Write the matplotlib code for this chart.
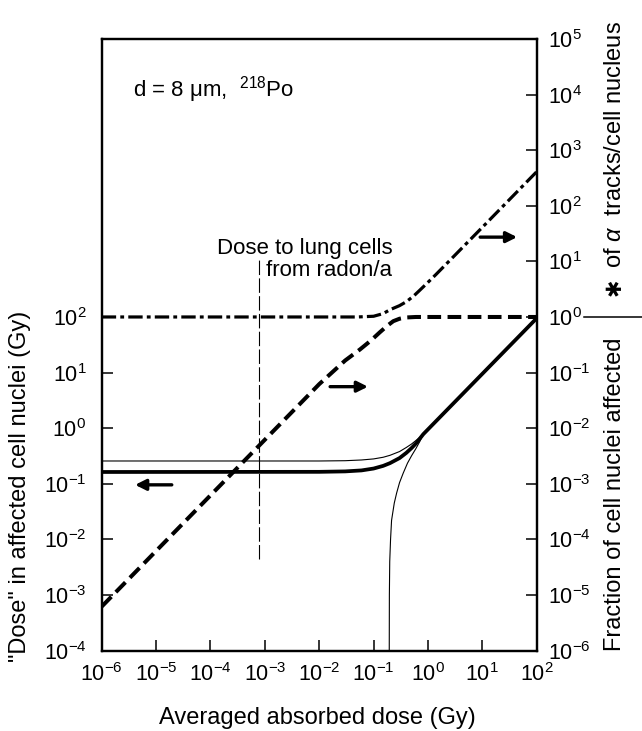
import matplotlib
matplotlib.use("Agg")
import matplotlib.pyplot as plt
from matplotlib.ticker import NullLocator, LogFormatterSciNotation

plt.rcParams['font.family'] = ['Liberation Sans', 'DejaVu Sans']
plt.rcParams['mathtext.fontset'] = 'custom'
plt.rcParams['mathtext.rm'] = 'Liberation Sans'
plt.rcParams['mathtext.it'] = 'Liberation Sans:italic'
plt.rcParams['mathtext.bf'] = 'Liberation Sans:bold'

# ---------------- data ----------------
# "Dose" in affected cell nuclei (left axis), thick solid curve
thick_x = [1e-6, 1e-2, 0.03, 0.06, 0.1, 0.15, 0.2, 0.3, 0.4, 0.5, 0.6, 0.7, 0.82, 100]
thick_y = [0.163, 0.164, 0.167, 0.174, 0.188, 0.21, 0.235, 0.29, 0.36, 0.44, 0.53, 0.64, 0.78, 95]

# thin upper curve (left axis)
thin_x = [1e-6, 1e-2, 0.03, 0.06, 0.1, 0.15, 0.2, 0.3, 0.4, 0.5, 0.6, 0.7, 0.82]
thin_y = [0.257, 0.257, 0.26, 0.268, 0.28, 0.30, 0.325, 0.38, 0.45, 0.52, 0.6, 0.68, 0.78]

# thin lower curve rising from the bottom (left axis)
low_x = [0.1935, 0.194, 0.195, 0.198, 0.205, 0.214, 0.24, 0.265, 0.3, 0.35, 0.42, 0.5, 0.6, 0.71, 0.82]
low_y = [1e-5, 1e-4, 1e-3, 4e-3, 1e-2, 0.022, 0.045, 0.068, 0.105, 0.155, 0.235, 0.32, 0.43, 0.58, 0.78]

# fraction of cell nuclei affected (right axis), dashed
frac_x = [1e-6, 1e-2, 0.03, 0.056, 0.09, 0.13, 0.18, 0.23, 0.3, 0.4, 0.6, 1, 100]
frac_y = [6.2e-6, 0.062, 0.165, 0.26, 0.38, 0.53, 0.7, 0.84, 0.93, 0.98, 1.0, 1.0, 1.0]

# number of alpha tracks per cell nucleus (right axis), dash-dot
trk_x = [1e-6, 0.05, 0.1, 0.15, 0.2, 0.3, 0.4, 0.55, 0.7, 1.0, 1.4, 2.35, 10, 100]
trk_y = [1.0, 1.0, 1.03, 1.15, 1.35, 1.6, 1.88, 2.4, 3.0, 4.2, 5.8, 9.7, 41, 410]

# marker for dose to lung cells from radon per year (left-axis units)
lung_x = [7.9e-4, 7.9e-4]
lung_y = [4.4e-3, 1.1e3]

x_ticks = [1e-6, 1e-5, 1e-4, 1e-3, 1e-2, 1e-1, 1e0, 1e1, 1e2]
left_ticks = [1e-4, 1e-3, 1e-2, 1e-1, 1e0, 1e1, 1e2]
right_ticks = [1e-6, 1e-5, 1e-4, 1e-3, 1e-2, 1e-1, 1e0, 1e1, 1e2, 1e3, 1e4, 1e5]

# ---------------- figure ----------------
fig = plt.figure(figsize=(6.42, 7.31), dpi=100)
ax = fig.add_axes([0.1585, 0.11, 0.6775, 0.8367])
ax2 = ax.twinx()

ax.set_xscale('log')
ax.set_yscale('log')
ax2.set_yscale('log')
ax.set_xlim(1e-6, 1e2)
ax.set_ylim(1e-4, 1e7)
ax2.set_ylim(1e-6, 1e5)

ax.plot(thin_x, thin_y, color='black', lw=0.8, zorder=3)
ax.plot(low_x, low_y, color='black', lw=0.8, zorder=3)
ax.plot(thick_x, thick_y, color='black', lw=2.7, zorder=4, solid_capstyle='butt')
ax.plot(lung_x, lung_y, color='black', lw=0.8, linestyle=(0, (13, 3)), zorder=2)

ax2.plot(frac_x, frac_y, color='black', lw=2.9, linestyle=(0, (3.4, 1.6)),
         dash_capstyle='butt', zorder=4)
ax2.plot(trk_x, trk_y, color='black', lw=2.3, linestyle=(0, (4.5, 1.3, 1.2, 1.3)),
         dash_capstyle='butt', zorder=4)

# ticks
ax.set_xticks(x_ticks)
ax.set_yticks(left_ticks)
ax2.set_yticks(right_ticks)
for a in (ax, ax2):
    a.xaxis.set_minor_locator(NullLocator())
    a.yaxis.set_minor_locator(NullLocator())
    for s in a.spines.values():
        s.set_linewidth(1.6)
ax.xaxis.set_major_formatter(LogFormatterSciNotation())
ax.yaxis.set_major_formatter(LogFormatterSciNotation())
ax2.yaxis.set_major_formatter(LogFormatterSciNotation())

ax.tick_params(axis='x', direction='in', length=8, width=1.1, pad=9, labelsize=15.5, top=False)
ax.tick_params(axis='y', direction='in', length=8, width=1.1, pad=11, labelsize=15.5)
ax2.tick_params(axis='y', direction='in', length=8, width=1.1, pad=8, labelsize=15.5)

# annotations inside the plot
ax.text(0.072, 0.9166, 'd = 8 \u03bcm,  $^{218}$Po', transform=ax.transAxes,
        fontsize=16, ha='left', va='center')
ax.text(0.265, 0.658, 'Dose to lung cells', transform=ax.transAxes,
        fontsize=16, ha='left', va='center')
ax.text(0.378, 0.622, 'from radon/a', transform=ax.transAxes,
        fontsize=16, ha='left', va='center')

arrow_kw = dict(arrowstyle='-|>', lw=2.4, color='black', mutation_scale=16,
                shrinkA=0, shrinkB=0)
ax.annotate('', xy=(0.955, 0.676), xytext=(0.870, 0.676), xycoords='axes fraction',
            arrowprops=arrow_kw)
ax.annotate('', xy=(0.612, 0.4315), xytext=(0.525, 0.4315), xycoords='axes fraction',
            arrowprops=arrow_kw)
ax.annotate('', xy=(0.0766, 0.271), xytext=(0.161, 0.271), xycoords='axes fraction',
            arrowprops=arrow_kw)

# axis labels
fig.text(0.495, 0.018, 'Averaged absorbed dose (Gy)', fontsize=17, ha='center', va='center')
fig.text(0.031, 0.334, '"Dose" in affected cell nuclei (Gy)', fontsize=17,
         rotation=90, ha='center', va='center')
fig.text(0.958, 0.324, 'Fraction of cell nuclei affected', fontsize=17,
         rotation=90, ha='center', va='center')
fig.text(0.958, 0.6075, '\u2731', fontsize=15, family=['DejaVu Sans'],
         rotation=90, ha='center', va='center')
fig.text(0.958, 0.634, 'of $\\alpha$  tracks/cell nucleus', fontsize=17,
         rotation=90, ha='center', va='bottom')
fig.add_artist(plt.Line2D([0.91, 1.0], [0.5663, 0.5663], transform=fig.transFigure,
                          color='black', lw=1.1))

fig.savefig('out.png', dpi=100)
